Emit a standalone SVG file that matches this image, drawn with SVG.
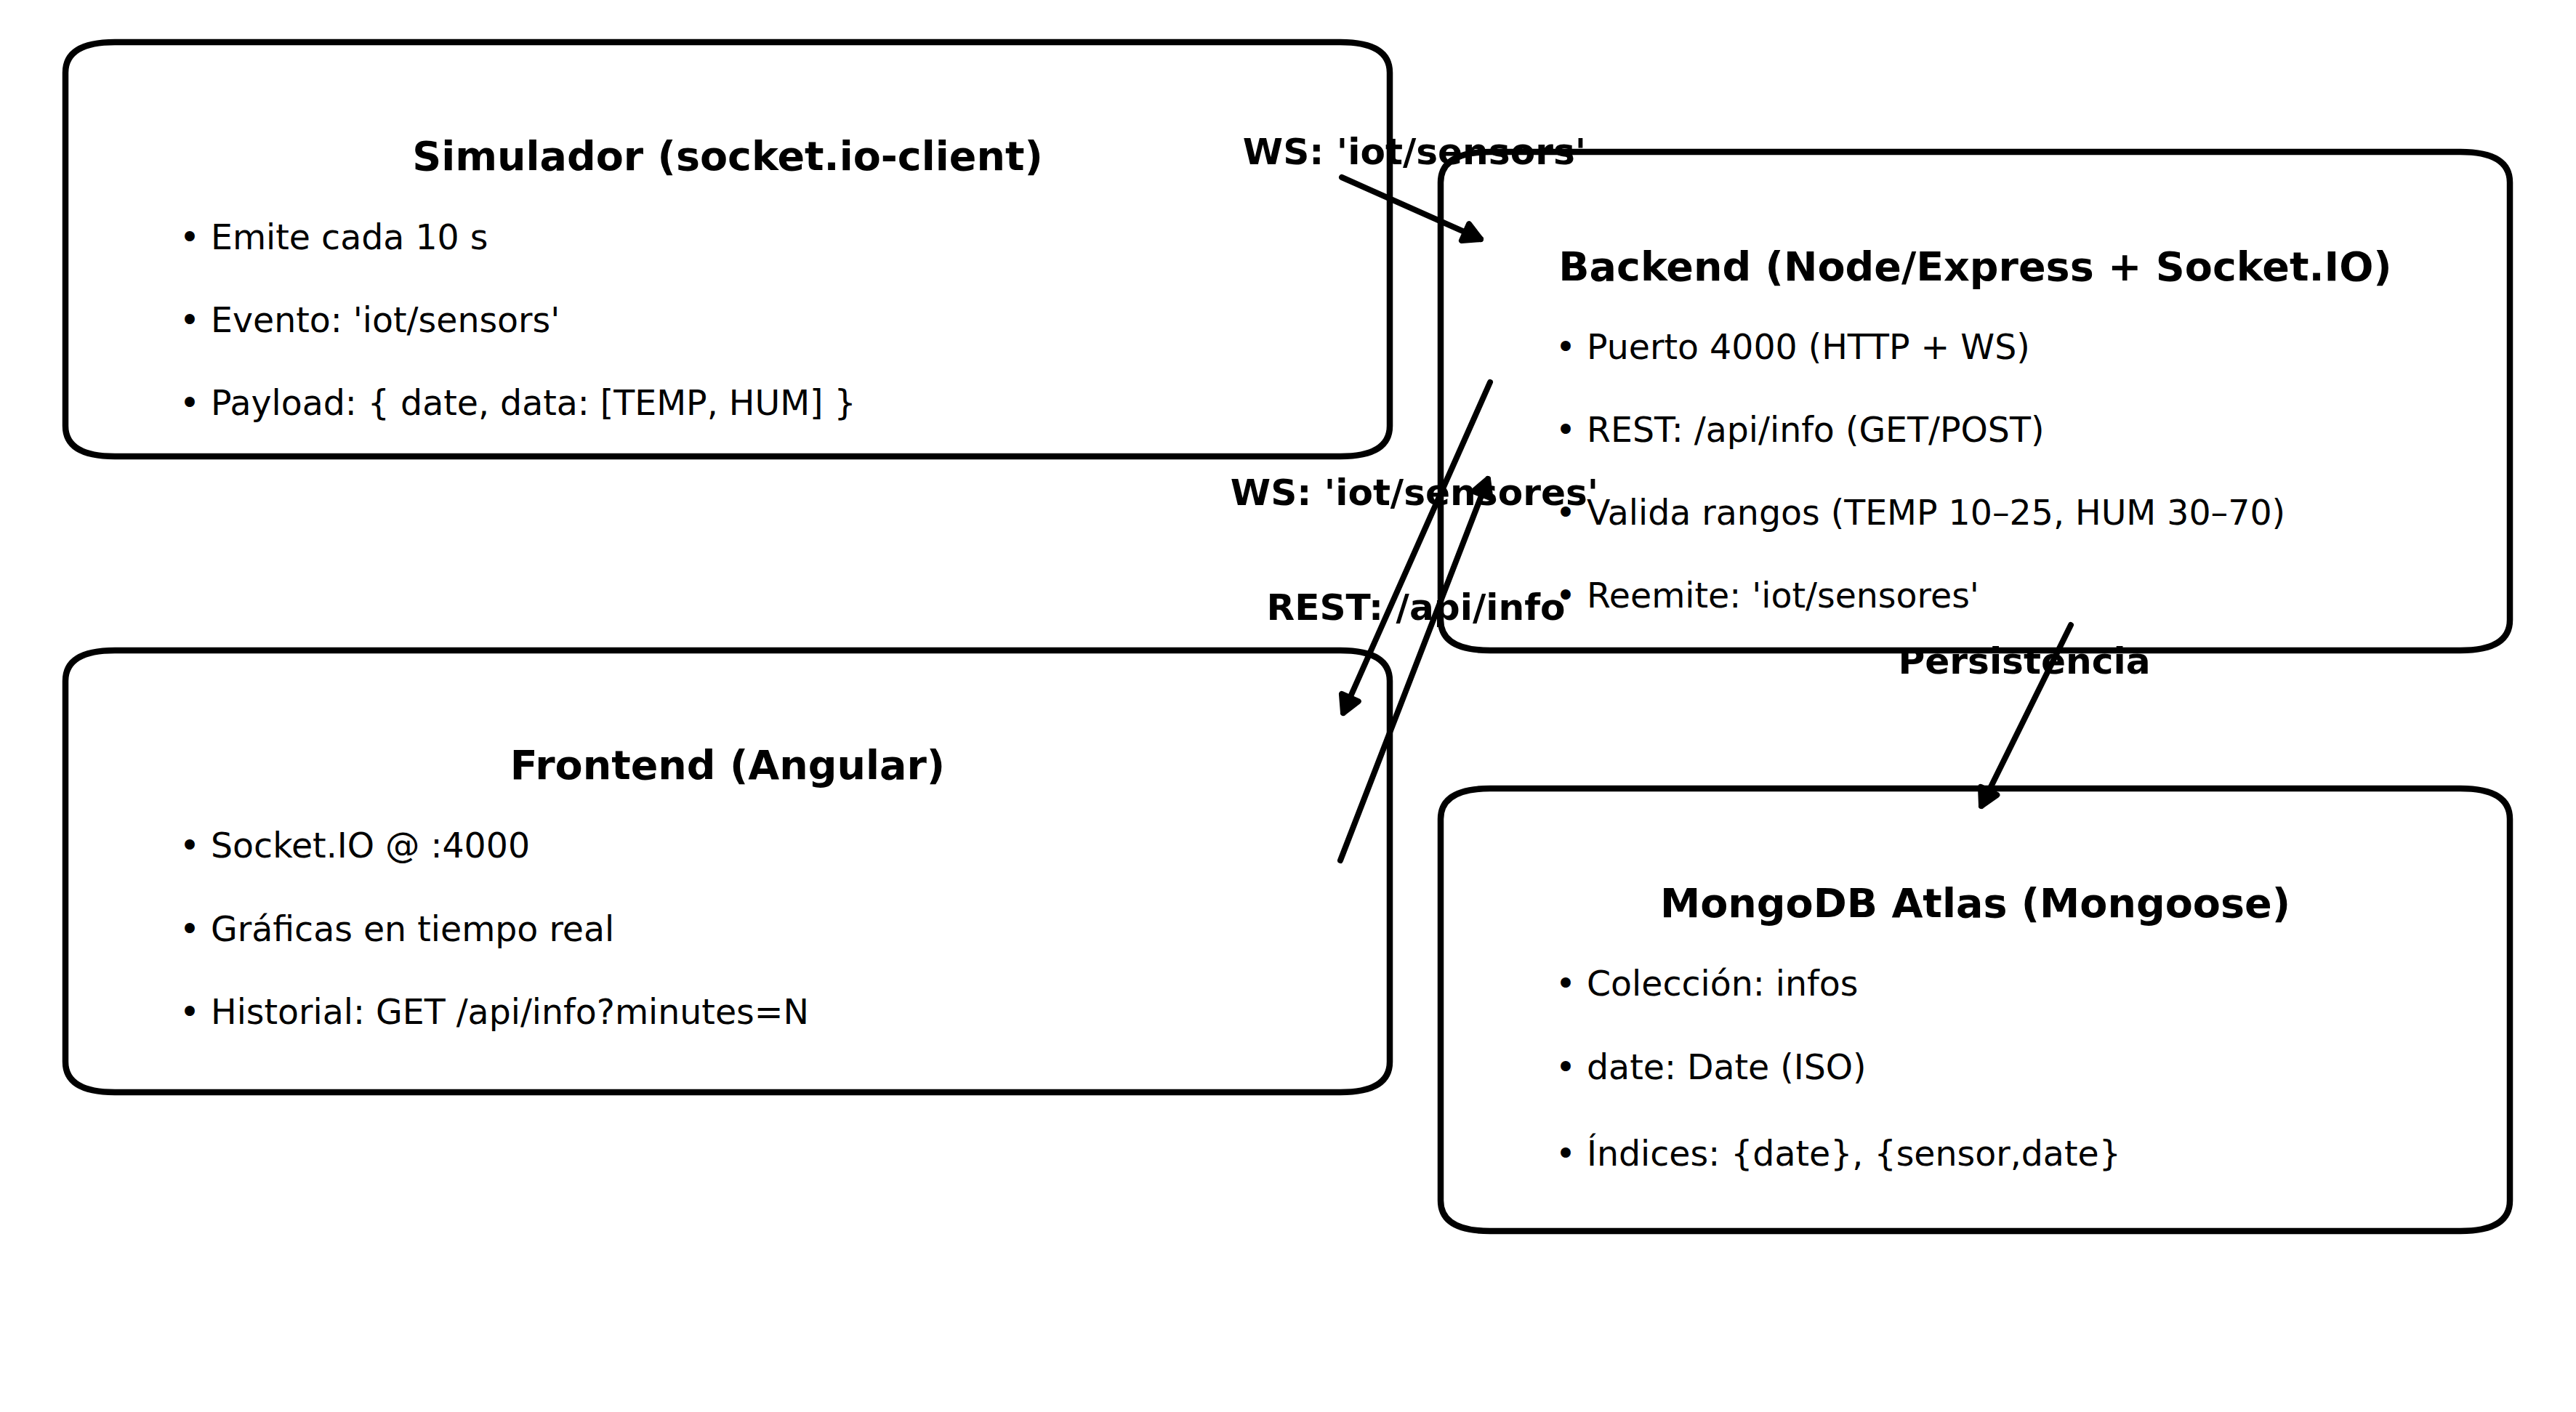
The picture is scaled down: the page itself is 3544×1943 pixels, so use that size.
<svg xmlns="http://www.w3.org/2000/svg" width="3544" height="1943" viewBox="0 0 3544 1943">
<style>
.box{fill:#fff;stroke:#000;stroke-width:8.5;stroke-linejoin:round}
.title{font-family:"DejaVu Sans",sans-serif;font-weight:bold;font-size:55.5px;fill:#000;text-anchor:middle}
.item{font-family:"DejaVu Sans",sans-serif;font-size:47.4px;fill:#000}
.lbl{font-family:"DejaVu Sans",sans-serif;font-weight:bold;font-size:50.2px;fill:#000;text-anchor:middle}
.edge{fill:none;stroke:#000;stroke-width:8;stroke-linecap:round;marker-end:url(#ah)}
</style>
<defs>
<marker id="ah" markerUnits="userSpaceOnUse" viewBox="-40 -30 60 60" markerWidth="60" markerHeight="60" refX="0" refY="0" orient="auto" overflow="visible">
<path d="M0,0 L-23,-12.5 L-23,12.5 Z" fill="#000" stroke="#000" stroke-width="8" stroke-linejoin="round"/>
</marker>
</defs>
<rect width="3544" height="1943" fill="#fff"/>
<g id="simulador">
<path class="box" d="M158,58 H1844 Q1912,58 1912,100 V586 Q1912,628 1844,628 H158 Q90,628 90,586 V100 Q90,58 158,58 Z"/>
<text class="title" x="1001" y="234">Simulador (socket.io-client)</text>
<text class="item" x="247" y="343">• Emite cada 10 s</text>
<text class="item" x="247" y="457">• Evento: 'iot/sensors'</text>
<text class="item" x="247" y="571">• Payload: { date, data: [TEMP, HUM] }</text>
</g>
<g id="backend">
<path class="box" d="M2050,209 H3385 Q3453,209 3453,251 V853 Q3453,895 3385,895 H2050 Q1982,895 1982,853 V251 Q1982,209 2050,209 Z"/>
<text class="title" x="2717.5" y="386">Backend (Node/Express + Socket.IO)</text>
<text class="item" x="2140" y="494">• Puerto 4000 (HTTP + WS)</text>
<text class="item" x="2140" y="608">• REST: /api/info (GET/POST)</text>
<text class="item" x="2140" y="722">• Valida rangos (TEMP 10–25, HUM 30–70)</text>
<text class="item" x="2140" y="836">• Reemite: 'iot/sensores'</text>
</g>
<g id="frontend">
<path class="box" d="M158,895 H1844 Q1912,895 1912,937 V1461 Q1912,1503 1844,1503 H158 Q90,1503 90,1461 V937 Q90,895 158,895 Z"/>
<text class="title" x="1001" y="1072">Frontend (Angular)</text>
<text class="item" x="247" y="1180">• Socket.IO @ :4000</text>
<text class="item" x="247" y="1295">• Gráficas en tiempo real</text>
<text class="item" x="247" y="1409">• Historial: GET /api/info?minutes=N</text>
</g>
<g id="mongodb">
<path class="box" d="M2050,1085 H3385 Q3453,1085 3453,1127 V1652 Q3453,1694 3385,1694 H2050 Q1982,1694 1982,1652 V1127 Q1982,1085 2050,1085 Z"/>
<text class="title" x="2717.5" y="1262">MongoDB Atlas (Mongoose)</text>
<text class="item" x="2140" y="1370">• Colección: infos</text>
<text class="item" x="2140" y="1485">• date: Date (ISO)</text>
<text class="item" x="2140" y="1604">• Índices: {date}, {sensor,date}</text>
</g>
<g id="connectors">
<line class="edge" x1="1846" y1="244" x2="2037" y2="329"/>
<line class="edge" x1="2050" y1="526" x2="1848" y2="981"/>
<line class="edge" x1="1844" y1="1184" x2="2047" y2="659"/>
<line class="edge" x1="2849" y1="860" x2="2726" y2="1109"/>
<text class="lbl" x="1946" y="226">WS: 'iot/sensors'</text>
<text class="lbl" x="1946" y="695">WS: 'iot/sensores'</text>
<text class="lbl" x="1948" y="853">REST: /api/info</text>
<text class="lbl" x="2785" y="927">Persistencia</text>
</g>
</svg>
